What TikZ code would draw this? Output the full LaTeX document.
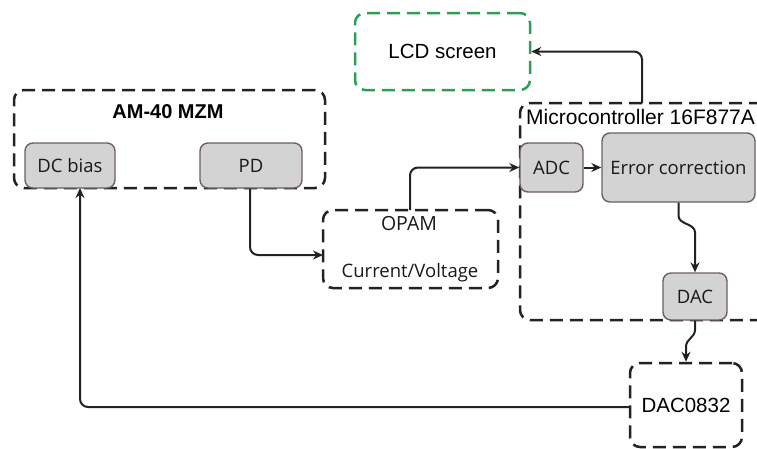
\documentclass[tikz,border=0pt]{standalone}
\usepackage{fontspec}
\setmainfont{Liberation Sans}
\newfontfamily\boxfont{Open Sans}
\usetikzlibrary{arrows.meta}
\definecolor{inkline}{HTML}{222222}
\definecolor{unitfill}{HTML}{D3D3D3}
\definecolor{unitedge}{HTML}{6E615D}
\definecolor{lcdgreen}{HTML}{2E9E55}
\tikzset{
  group/.style={draw=inkline, line width=2.5pt, dash pattern=on 13pt off 7pt,
    rounded corners=10pt, inner sep=0pt},
  unit/.style={draw=unitedge, fill=unitfill, line width=1.4pt, rounded corners=8pt,
    inner sep=0pt, font=\boxfont\fontsize{18.5}{20}\selectfont, text=black!90},
  plain/.style={font=\fontsize{20.5}{22}\selectfont, text=black, inner sep=0pt},
  link/.style={draw=inkline, line width=2pt, rounded corners=8pt,
    -{Stealth[length=10pt,width=9pt]}},
}
\begin{document}
\begin{tikzpicture}[x=1pt, y=-1pt]
  \useasboundingbox (0,0) rectangle (757,448);
  \clip (0,0) rectangle (757,448);

  % dashed group frames
  \node[group, minimum width=311pt, minimum height=98pt] (mzm) at (169.5,139) {};
  \node[group, draw=lcdgreen, minimum width=175pt, minimum height=77pt,
        plain] (lcd) at (442.5,51.5) {LCD screen};
  \node[group, minimum width=252pt, minimum height=217pt] (mcu) at (646,211.5) {};
  \node[group, minimum width=175pt, minimum height=78pt] (opam) at (410.5,249) {};
  \node[group, minimum width=112pt, minimum height=84pt, plain] (dac832) at (686,405) {DAC0832};

  % frame titles
  \node[plain, font=\bfseries\fontsize{20}{22}\selectfont] (mzmtitle) at (168,112) {AM-40 MZM};
  \node[plain, anchor=west, font=\fontsize{21}{22}\selectfont] (mcutitle) at (526,117) {Microcontroller 16F877A};
  \node[unit, draw=none, fill=none, font=\boxfont\fontsize{19.5}{21}\selectfont] (opamtitle) at (409,224) {OPAM};
  \node[unit, draw=none, fill=none] (opamsub) at (410,273) {Current/Voltage};

  % functional units
  \node[unit, minimum width=90pt, minimum height=45pt] (dcbias) at (70,165.5) {DC bias};
  \node[unit, minimum width=102pt, minimum height=45pt] (pd) at (251,165.5) {PD};
  \node[unit, minimum width=63pt, minimum height=49pt] (adc) at (551.5,167.5) {ADC};
  \node[unit, minimum width=153pt, minimum height=69pt] (ec) at (678.5,167.5) {Error correction};
  \node[unit, minimum width=64pt, minimum height=47pt] (dac) at (695,296.5) {DAC};

  % routing points
  \coordinate (pdturn) at (250,255);
  \coordinate (opamin) at (323,255);
  \coordinate (opamout) at (410,210);
  \coordinate (mcuout) at (642,103);
  \coordinate (dcin) at (80,188);
  \coordinate (backturn) at (80,407);
  \coordinate (dacback) at (630,407);

  % connectors
  \draw[link] (pd.south -| pdturn) -- (pdturn) -- (opamin);
  \draw[link] (opamout) |- (adc.west);
  \draw[link] (adc.east) -- (ec.west);
  \draw[link] (mcuout) |- (lcd.east);
  \draw[link, rounded corners=0pt] (ec.south) -- ++(0,13)
     .. controls +(0,9) and +(0,-9) .. ([yshift=40pt]dac.north) -- (dac.north);
  \draw[link, rounded corners=0pt] (dac.south) -- ++(0,9)
     .. controls +(0,8) and +(0,-8) .. ([yshift=15pt]dac832.north) -- (dac832.north);
  \draw[link] (dacback) -- (backturn) -- (dcin);
\end{tikzpicture}
\end{document}
